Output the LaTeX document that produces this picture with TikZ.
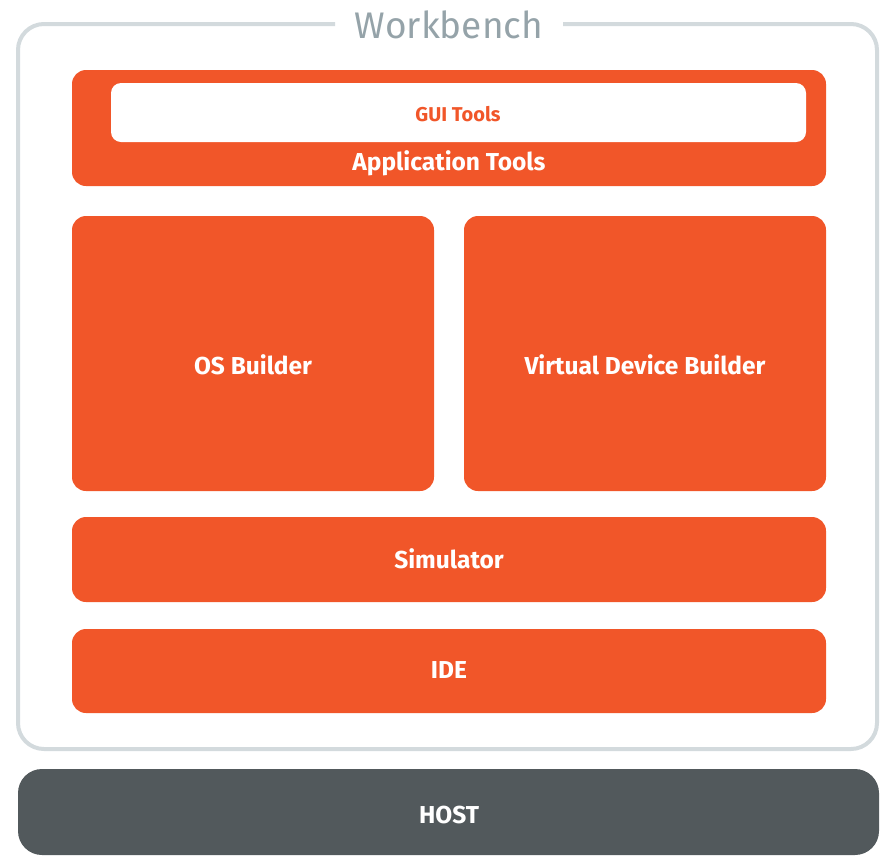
\documentclass[tikz,border=0pt]{standalone}
\usepackage{fontspec}
\setmainfont{Fira Sans}
\definecolor{orng}{HTML}{F15629}
\definecolor{hostgray}{HTML}{52595C}
\definecolor{framegray}{HTML}{D3DADD}
\definecolor{titlegray}{HTML}{95A3A9}
\begin{document}
\begin{tikzpicture}[x=1pt,y=-1pt,
  block/.style={fill=orng, draw=none, rounded corners=14pt},
  lbl/.style={text=white, font=\fontsize{24.5}{28}\selectfont\bfseries, inner sep=0pt}]
\useasboundingbox (0,0) rectangle (881,855);
% workbench frame
\draw[framegray, line width=4pt, rounded corners=26pt] (335,24) -- (18,24) -- (18,749) -- (877,749) -- (877,24) -- (563,24);
\node[text=titlegray, font=\fontsize{37}{44}\selectfont, inner sep=0pt] (wb) at (449,25) {Workbench};
% application tools
\path[block] (72,70) rectangle (826,186);
\node (app) at (449,163) [lbl] {Application Tools};
\path[fill=white, rounded corners=10pt] (111,83) rectangle (806,142);
\node (gui) at (458,114) [text=orng, font=\fontsize{20}{24}\selectfont\bfseries, inner sep=0pt] {GUI Tools};
% builders
\path[block] (72,216) rectangle (434,491);
\node (os) at (253,365) [lbl] {OS Builder};
\path[block] (464,216) rectangle (826,491);
\node (vdb) at (645,365) [lbl] {Virtual Device Builder};
% simulator
\path[block] (72,517) rectangle (826,602);
\node (sim) at (449,559) [lbl] {Simulator};
% IDE
\path[block] (72,629) rectangle (826,713);
\node (ide) at (449,670) [lbl] {IDE};
% host
\path[fill=hostgray, rounded corners=24pt] (18,769) rectangle (879,855);
\node (host) at (449,815) [lbl] {HOST};
\end{tikzpicture}
\end{document}
